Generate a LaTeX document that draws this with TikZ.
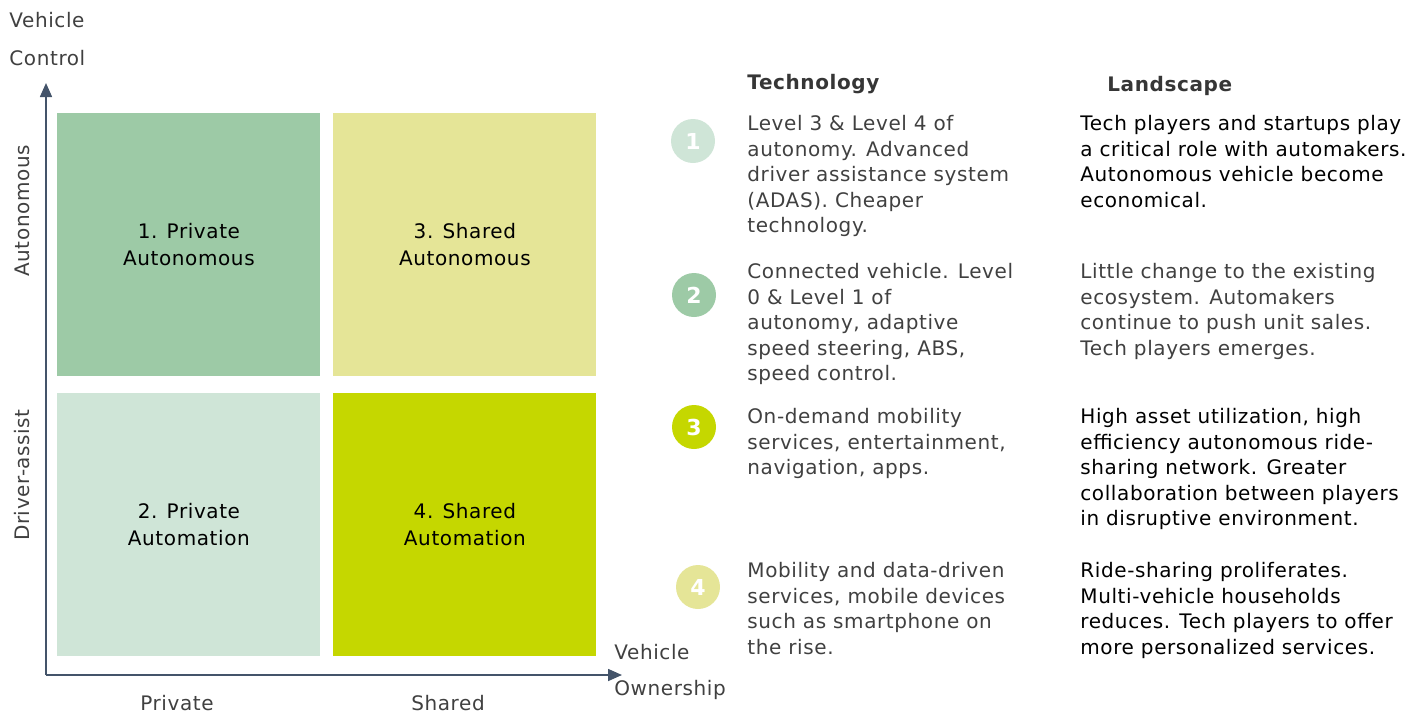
\documentclass[tikz,border=0pt]{standalone}
\usepackage{fontspec}
\setmainfont[LetterSpace=3]{DejaVu Sans}
\usepackage{tikz}
\usetikzlibrary{arrows.meta,positioning}

\definecolor{axisblue}{HTML}{44546A}
\definecolor{txtgray}{HTML}{404040}
\definecolor{quadA}{HTML}{9DCAA6}
\definecolor{quadB}{HTML}{CFE5D7}
\definecolor{quadC}{HTML}{E5E597}
\definecolor{quadD}{HTML}{C5D700}

\begin{document}
\begin{tikzpicture}[x=0.5pt,y=-0.5pt,
  every node/.style={inner sep=0pt,font=\fontsize{10}{12.75}\selectfont},
  quad/.style={minimum width=131.5pt,minimum height=131.5pt,anchor=north west,align=center,text=black,font=\fontsize{10}{13.5}\selectfont},
  axislbl/.style={text=txtgray},
  badge/.style={circle,minimum size=22pt,text=white,font=\fontsize{11}{12}\selectfont\bfseries},
  desc/.style={anchor=north west,align=left,text=txtgray},
  head/.style={anchor=west,text=txtgray!85!black,font=\fontsize{10}{12}\selectfont\bfseries}]
\useasboundingbox (0,0) rectangle (1424,713);
% axes
\coordinate (origin) at (46,675);
\coordinate (ytip) at (46,83);
\coordinate (xtip) at (622,675);
\draw[axisblue,line width=0.8pt,-{Triangle[width=6pt,length=7pt]}] (origin) -- (ytip);
\draw[axisblue,line width=0.8pt,-{Triangle[width=6pt,length=7pt]}] (origin) -- (xtip);
\node[axislbl,anchor=west] (vc1) at (9,20) {Vehicle};
\node[axislbl,anchor=west] (vc2) at (9,58) {Control};
\node[axislbl,anchor=west] (vo1) at (614,652) {Vehicle};
\node[axislbl,anchor=west] (vo2) at (614,690) {Ownership};
\node[axislbl,rotate=90] (yauto) at (22,211) {Autonomous};
\node[axislbl,rotate=90] (ydrv) at (22,475) {Driver-assist};
\node[axislbl] (xpriv) at (177,703) {Private};
\node[axislbl] (xshar) at (448,703) {Shared};
% quadrants
\node[quad,fill=quadA] (q1) at (57,113) {1. Private\\Autonomous};
\node[quad,fill=quadC] (q3) at (333,113) {3. Shared\\Autonomous};
\node[quad,fill=quadB] (q2) at (57,393) {2. Private\\Automation};
\node[quad,fill=quadD] (q4) at (333,393) {4. Shared\\Automation};
% table
\node[head] (thead) at (747,84) {Technology};
\node[head] (lhead) at (1107,86) {Landscape};
\node[badge,fill=quadB] (b1) at (693,141) {1};
\node[badge,fill=quadA] (b2) at (694,295) {2};
\node[badge,fill=quadD] (b3) at (694,427) {3};
\node[badge,fill=quadC] (b4) at (698,587) {4};
\node[desc] (t1) at (747,115) {Level 3 \& Level 4 of\\autonomy. Advanced\\driver assistance system\\(ADAS). Cheaper\\technology.};
\node[desc] (t2) at (747,263) {Connected vehicle. Level\\0 \& Level 1 of\\autonomy, adaptive\\speed steering, ABS,\\speed control.};
\node[desc] (t3) at (747,408) {On-demand mobility\\services, entertainment,\\navigation, apps.};
\node[desc] (t4) at (747,562) {Mobility and data-driven\\services, mobile devices\\such as smartphone on\\the rise.};
\node[desc,text=black] (l1) at (1080,115) {Tech players and startups play\\a critical role with automakers.\\Autonomous vehicle become\\economical.};
\node[desc] (l2) at (1080,263) {Little change to the existing\\ecosystem. Automakers\\continue to push unit sales.\\Tech players emerges.};
\node[desc,text=black] (l3) at (1080,408) {High asset utilization, high\\efficiency autonomous ride-\\sharing network. Greater\\collaboration between players\\in disruptive environment.};
\node[desc,text=black] (l4) at (1080,562) {Ride-sharing proliferates.\\Multi-vehicle households\\reduces. Tech players to offer\\more personalized services.};
\end{tikzpicture}
\end{document}
